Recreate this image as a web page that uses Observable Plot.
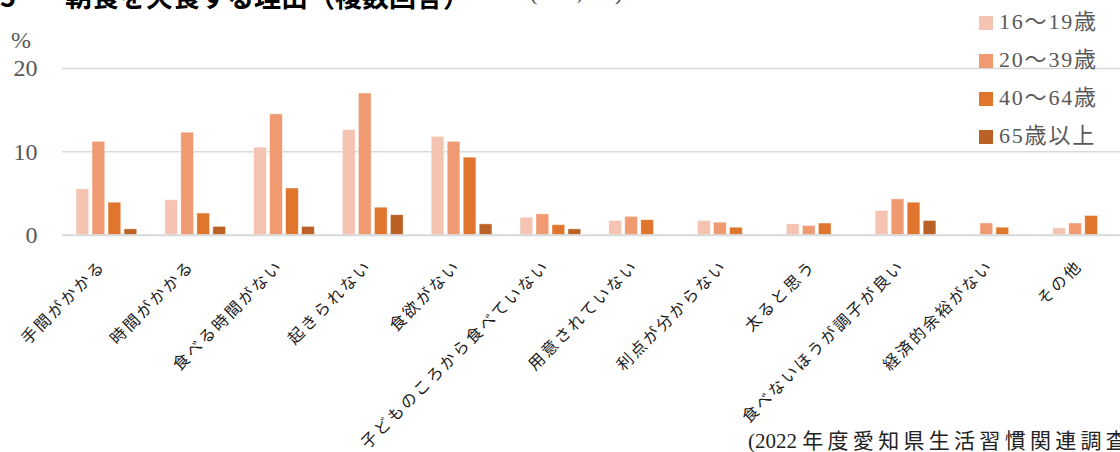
<!DOCTYPE html>
<html>
<head>
<meta charset="utf-8">
<script src="https://cdn.jsdelivr.net/npm/d3@7"></script>
<script src="https://cdn.jsdelivr.net/npm/@observablehq/plot@0.6"></script>
<style>
  html, body { margin: 0; padding: 0; background: #fff; }
  #wrap { position: relative; width: 1120px; height: 452px; overflow: hidden; }
  #chart { position: absolute; left: 0; top: 0; }
  .abs { position: absolute; white-space: pre; }
  .title { font-family: "Noto Sans CJK JP", sans-serif; font-weight: bold; font-size: 27px; line-height: 27px; color: #000; }
  .ntext { font-family: "Liberation Serif", "Noto Sans CJK JP", serif; font-size: 22px; line-height: 22px; color: #404040; }
  .pct { font-family: "Liberation Serif", serif; font-size: 24px; line-height: 24px; color: #595959; }
  .leg { font-family: "Liberation Serif", "Noto Sans CJK JP", serif; font-size: 22px; line-height: 22px; color: #595959; letter-spacing: 1.8px; }
  .sw { position: absolute; width: 14px; height: 14px; }
  .cap { font-family: "Liberation Serif", "Noto Sans CJK JP", serif; font-size: 21px; line-height: 21px; color: #222; }
  .cap .cjk { letter-spacing: 4.3px; }
  #chart g[aria-label="x-axis tick label"] text { letter-spacing: 2.5px; }
</style>
</head>
<body>
<div id="wrap">
  <div id="chart"></div>
</div>
<script>
const categories = ["手間がかかる","時間がかかる","食べる時間がない","起きられない","食欲がない","子どものころから食べていない","用意されていない","利点が分からない","太ると思う","食べないほうが調子が良い","経済的余裕がない","その他"];
const seriesNames = ["16〜19歳","20〜39歳","40〜64歳","65歳以上"];
const age16_19 = [5.5, 4.2, 10.5, 12.6, 11.8, 2.1, 1.7, 1.7, 1.3, 2.9, null, 0.8];
const age20_39 = [11.2, 12.3, 14.5, 17.0, 11.2, 2.5, 2.2, 1.5, 1.1, 4.3, 1.4, 1.4];
const age40_64 = [3.9, 2.6, 5.6, 3.3, 9.3, 1.2, 1.8, 0.9, 1.4, 3.9, 0.9, 2.3];
const age65plus = [0.7, 1.0, 1.0, 2.4, 1.3, 0.7, null, null, null, 1.7, null, null];
const colors = ["#F5C3B1", "#F09A72", "#E0762E", "#BA6226"];
const yTicks = [0, 10, 20];
const titleMain = "朝食を欠食する理由（複数回答）";
const titleNum = "図5";
const titleN = "(N=1,050)";
const yUnit = "%";
const captionYear = "(2022 ";
const captionBody = "年度愛知県生活習慣関連調査)";

const seriesValues = [age16_19, age20_39, age40_64, age65plus];
const rows = [];
seriesValues.forEach((vals, si) => {
  vals.forEach((v, ci) => rows.push({cat: categories[ci], series: seriesNames[si], value: v}));
});

const barMarks = seriesNames.map((s, i) =>
  Plot.barY(rows.filter(d => d.series === s && d.value != null), {
    x: "cat", y: "value", fill: colors[i], dx: (i - 1.5) * 16,
    stroke: "#fff", strokeOpacity: 0.5, strokeWidth: 0.8
  })
);

const chart = Plot.plot({
  width: 1120,
  height: 452,
  marginLeft: 62,
  marginRight: -7.5,
  marginTop: 68,
  marginBottom: 217.3,
  style: {background: "transparent", overflow: "visible"},
  x: {domain: categories, paddingInner: 0.857, paddingOuter: 0.4285, round: false, axis: null},
  y: {domain: [0, 20], axis: null},
  marks: [
    Plot.ruleY([10, 20], {stroke: "#d9d9d9", strokeWidth: 1.5}),
    ...barMarks,
    Plot.ruleY([0], {stroke: "#d9d9d9", strokeWidth: 2}),
    Plot.axisY({ticks: yTicks, tickSize: 0, tickPadding: 25, fontSize: 24, fontFamily: "Liberation Serif, serif", color: "#595959", label: null}),
    Plot.axisX({tickRotate: -45, tickSize: 0, tickPadding: 28, dx: -4, fontSize: 16, fontFamily: "Noto Sans CJK JP, sans-serif", color: "#1a1a1a", label: null})
  ]
});
document.getElementById("chart").appendChild(chart);

const wrap = document.getElementById("wrap");
function addDiv(cls, text, left, top) {
  const d = document.createElement("div");
  d.className = "abs " + cls;
  d.textContent = text;
  d.style.left = left + "px";
  d.style.top = top + "px";
  wrap.appendChild(d);
  return d;
}
addDiv("title", titleNum, -27, -18);
addDiv("title", titleMain, 65, -18);
addDiv("ntext", titleN, 530, -18);
addDiv("pct", yUnit, 11, 28);
seriesNames.forEach((s, i) => {
  const cy = [23, 60.5, 99, 137][i];
  const sw = document.createElement("div");
  sw.className = "sw";
  sw.style.left = "979px";
  sw.style.top = (cy - 7) + "px";
  sw.style.background = colors[i];
  wrap.appendChild(sw);
  addDiv("leg", s, 999, cy - 12);
});
const cap = addDiv("cap", "", 748, 431);
const capYear = document.createElement("span");
capYear.textContent = captionYear;
const capBody = document.createElement("span");
capBody.className = "cjk";
capBody.textContent = captionBody;
cap.appendChild(capYear);
cap.appendChild(capBody);
</script>
</body>
</html>
